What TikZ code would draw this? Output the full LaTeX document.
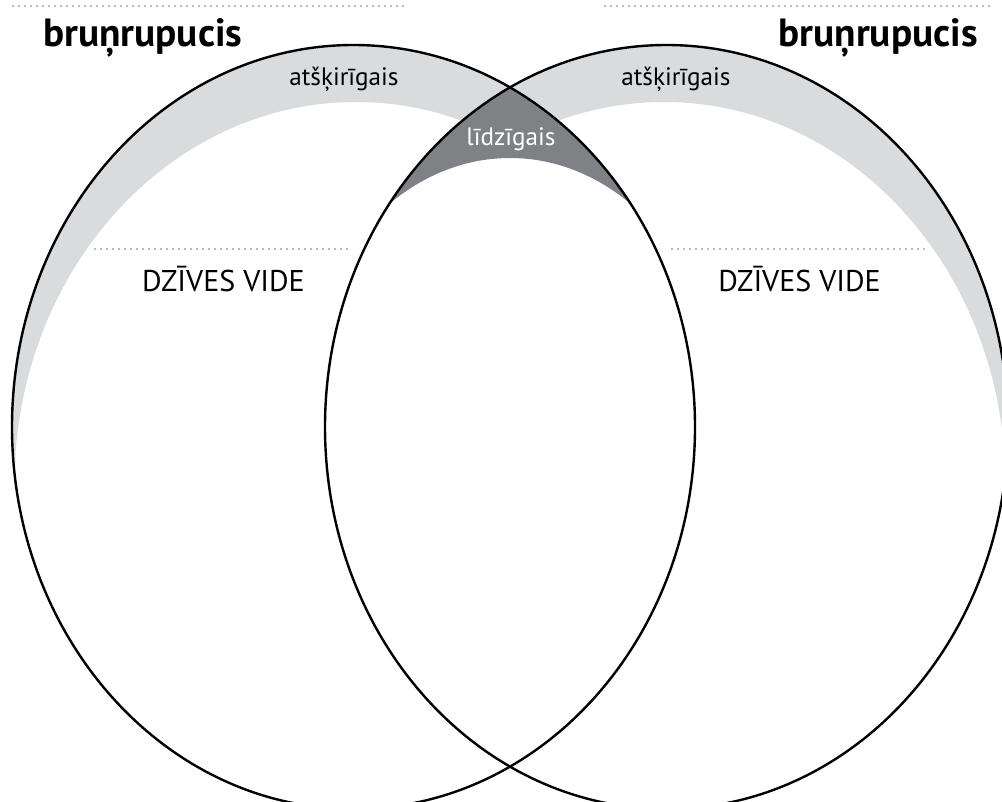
\documentclass[tikz,border=0pt]{standalone}
\usepackage{fontspec}
\setmainfont{PT Sans}
\definecolor{bandgray}{RGB}{218,219,221}
\definecolor{lensgray}{RGB}{128,129,132}
\definecolor{dotgray}{RGB}{160,162,165}
\begin{document}
\begin{tikzpicture}[x=0.75pt,y=-0.75pt,
  outline/.style={draw=black,line width=1.8pt},
  dotline/.style={draw=dotgray,line width=1.7pt,line cap=round,dash pattern=on 0pt off 4.5pt},
  titletext/.style={font=\bfseries\fontsize{29.5}{33}\selectfont,inner sep=0pt},
  difftext/.style={font=\fontsize{18.9}{22}\selectfont,inner sep=0pt},
  habtext/.style={font=\fontsize{22.5}{26}\selectfont,inner sep=0pt}]
\useasboundingbox (0,0) rectangle (1002,802);
\clip (0,0) rectangle (1002,802);
% light bands
\begin{scope}
  \clip (353.5,427) ellipse [x radius=341.5, y radius=382];
  \fill[bandgray, even odd rule] (353.5,427) ellipse [x radius=341.5, y radius=382]
        (356,484) ellipse [x radius=341.5, y radius=382];
\end{scope}
\begin{scope}
  \clip (666.5,427) ellipse [x radius=341.5, y radius=382];
  \fill[bandgray, even odd rule] (666.5,427) ellipse [x radius=341.5, y radius=382]
        (664,484) ellipse [x radius=341.5, y radius=382];
\end{scope}
% clear lens
\begin{scope}
  \clip (353.5,427) ellipse [x radius=341.5, y radius=382];
  \fill[white] (666.5,427) ellipse [x radius=341.5, y radius=382];
\end{scope}
% dark top of lens
\begin{scope}
  \clip (353.5,427) ellipse [x radius=341.5, y radius=382];
  \clip (666.5,427) ellipse [x radius=341.5, y radius=382];
  \fill[lensgray] (290,438) arc [start angle=180, end angle=360, x radius=220, y radius=280]
        -- (730,0) -- (290,0) -- cycle;
\end{scope}
% outlines
\draw[outline] (353.5,427) ellipse [x radius=341.5, y radius=382];
\draw[outline] (666.5,427) ellipse [x radius=341.5, y radius=382];
% dotted rules
\draw[dotline] (13,6) -- (408,6);
\draw[dotline] (605,6) -- (993,6);
\draw[dotline] (95,249) -- (352,249);
\draw[dotline] (672,249) -- (927,249);
% texts
\node[titletext, anchor=base west] (tL) at (43,47) {bruņrupucis};
\node[titletext, anchor=base east] (tR) at (978,47) {bruņrupucis};
\node[difftext, anchor=base] (dL) at (344,86) {atšķirīgais};
\node[difftext, anchor=base] (dR) at (676,86) {atšķirīgais};
\node[difftext, anchor=base, text=white] (sim) at (511,146) {līdzīgais};
\node[habtext, anchor=base] (hL) at (223.5,291) {DZĪVES VIDE};
\node[habtext, anchor=base] (hR) at (799.5,291) {DZĪVES VIDE};
\end{tikzpicture}
\end{document}
